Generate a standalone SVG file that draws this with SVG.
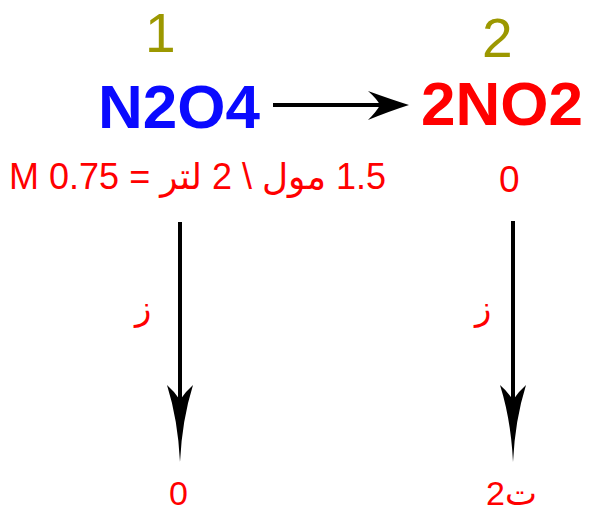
<svg xmlns="http://www.w3.org/2000/svg" width="589" height="515" viewBox="0 0 589 515">
<style>
.num{font-family:"Liberation Sans",Arial,sans-serif;font-size:55px;fill:#9c9800}
.mol{font-family:"Liberation Sans",Arial,sans-serif;font-size:62px;font-weight:bold}
.lbl{font-family:"Liberation Sans","DejaVu Sans",Arial,sans-serif;font-size:34px;fill:#ff0000}
.ln{stroke:#000;stroke-width:4;fill:none}
.head{fill:#000}
</style>
<rect width="589" height="515" fill="#fff"/>
<g id="connectors">
<line class="ln" x1="273" y1="105" x2="385" y2="105"/>
<path class="head" d="M409 105 Q390 99 368 91 Q377 99 380 105 Q377 111 368 120 Q390 111 409 105Z"/>
<line class="ln" x1="180" y1="222" x2="180" y2="405"/>
<path class="head" d="M180 462 Q178 420 167 385 Q175 392 180 400 Q185 392 193 385 Q182 420 180 462Z"/>
<line class="ln" x1="513" y1="221" x2="513" y2="405"/>
<path class="head" d="M513 462 Q511 420 500 385 Q508 392 513 400 Q518 392 526 385 Q515 420 513 462Z"/>
</g>
<g id="n2o4">
<text class="num" x="145" y="52">1</text>
<text class="mol" x="98" y="128" fill="#0a0aff">N2O4</text>
<text class="lbl" x="386" y="189" direction="rtl" text-anchor="start" style="font-size:36px">1.5 مول \ 2 لتر = 0.75 M</text>
<text class="lbl" x="135" y="320">ز</text>
<text class="lbl" x="169" y="505">0</text>
</g>
<g id="no2">
<text class="num" x="482" y="57">2</text>
<text class="mol" x="421" y="125" fill="#ff0000">2NO2</text>
<text class="lbl" x="499" y="192" style="font-size:37px">0</text>
<text class="lbl" x="475" y="320">ز</text>
<text class="lbl" x="486" y="505">ت2</text>
</g>
</svg>
